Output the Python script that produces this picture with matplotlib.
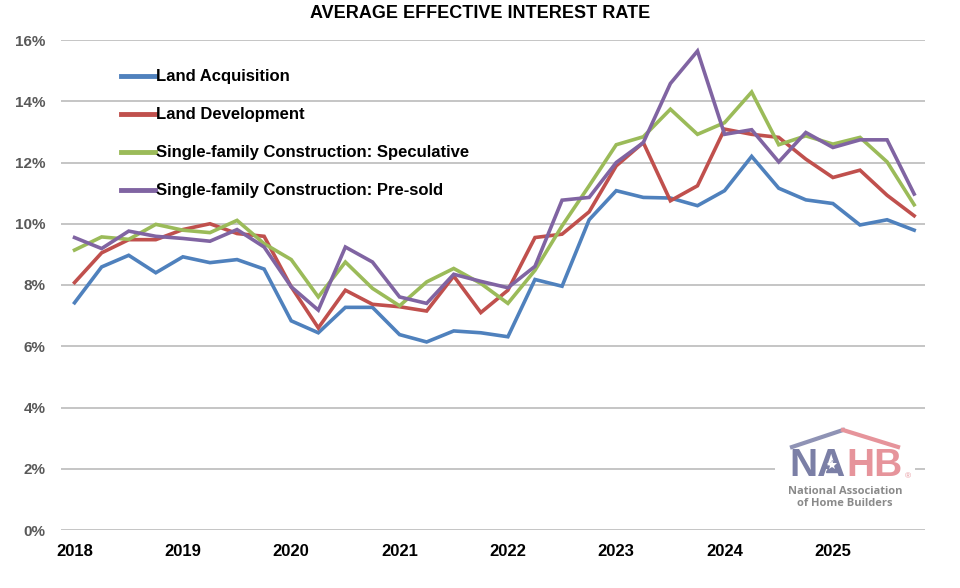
import matplotlib.pyplot as plt
from matplotlib.patches import Rectangle

plt.rcParams['font.family'] = ['Liberation Sans', 'DejaVu Sans']

# kwartaly od 2018 Q1 do 2025 Q4
years = ['2018', '2019', '2020', '2021', '2022', '2023', '2024', '2025']

land_acquisition = [7.42, 8.59, 8.97, 8.40, 8.92, 8.73, 8.83, 8.52,
                    6.83, 6.44, 7.27, 7.27, 6.38, 6.14, 6.50, 6.44,
                    6.31, 8.18, 7.96, 10.13, 11.08, 10.86, 10.84, 10.59,
                    11.08, 12.20, 11.16, 10.78, 10.66, 9.96, 10.13, 9.79]

land_development = [8.08, 9.05, 9.48, 9.48, 9.81, 10.00, 9.68, 9.59,
                    7.94, 6.60, 7.83, 7.37, 7.29, 7.15, 8.29, 7.10,
                    7.83, 9.55, 9.66, 10.39, 11.89, 12.65, 10.75, 11.24,
                    13.09, 12.92, 12.82, 12.11, 11.51, 11.75, 10.93, 10.26]

speculative = [9.14, 9.57, 9.49, 9.98, 9.79, 9.71, 10.11, 9.35,
               8.83, 7.61, 8.75, 7.89, 7.32, 8.10, 8.54, 8.05,
               7.40, 8.48, 9.93, 11.24, 12.58, 12.84, 13.74, 12.92,
               13.30, 14.30, 12.58, 12.87, 12.60, 12.82, 12.02, 10.62]

pre_sold = [9.55, 9.19, 9.76, 9.59, 9.52, 9.43, 9.81, 9.24,
            7.94, 7.18, 9.24, 8.75, 7.61, 7.40, 8.35, 8.12,
            7.91, 8.61, 10.77, 10.86, 12.00, 12.65, 14.58, 15.64,
            12.92, 13.07, 12.02, 12.98, 12.49, 12.74, 12.74, 10.97]

series = [
    ('Land Acquisition', land_acquisition, '#4F81BD'),
    ('Land Development', land_development, '#C0504D'),
    ('Single-family Construction: Speculative', speculative, '#9BBB59'),
    ('Single-family Construction: Pre-sold', pre_sold, '#8064A2'),
]

fig = plt.figure(figsize=(9.6, 5.88), dpi=100)
ax = fig.add_axes([61 / 960, 1 - 530 / 588, 864 / 960, 490 / 588])

x = list(range(len(land_acquisition)))
for nazwa, wartosci, kolor in series:
    ax.plot(x, wartosci, color=kolor, linewidth=2.6, label=nazwa, solid_joinstyle='miter')

ax.set_xlim(-0.5, 31.4)
ax.set_ylim(0, 16)
ax.set_yticks(range(0, 17, 2))
ax.set_yticklabels([f'{v}%' for v in range(0, 17, 2)])
ax.set_xticks([i * 4 for i in range(len(years))])
ax.set_xticklabels(years)
ax.grid(axis='y', color='#C0C0C0', linewidth=1.3)
ax.set_axisbelow(True)
for s in ax.spines.values():
    s.set_visible(False)
ax.tick_params(axis='both', length=0)
ax.tick_params(axis='y', pad=11, labelsize=11, labelcolor='#595959')
ax.tick_params(axis='x', pad=10, labelsize=12, labelcolor='black')
for t in ax.get_xticklabels() + ax.get_yticklabels():
    t.set_fontweight('bold')

fig.text(0.5, 1 - 13 / 588, 'AVERAGE EFFECTIVE INTEREST RATE', ha='center', va='center',
         fontsize=13, fontweight='bold')

leg = ax.legend(loc='upper left', bbox_to_anchor=(0.07, 0.94), frameon=False,
                handlelength=2.0, handletextpad=0.1, labelspacing=1.38,
                borderpad=0, borderaxespad=0, prop={'weight': 'bold', 'size': 12})
for line in leg.get_lines():
    line.set_linewidth(3.5)

# logo NAHB
fig.patches.append(Rectangle((775 / 960, 1 - 512 / 588), 140 / 960, 87 / 588,
                             transform=fig.transFigure, facecolor='white',
                             edgecolor='none', zorder=3))
blue_gray = '#7B7FA6'
pink = '#E6949B'
fig.add_artist(plt.Line2D([792 / 960, 843 / 960], [1 - 447 / 588, 1 - 430 / 588],
                          color='#8F93B5', linewidth=3, transform=fig.transFigure, zorder=4))
fig.add_artist(plt.Line2D([843 / 960, 898 / 960], [1 - 430 / 588, 1 - 447 / 588],
                          color=pink, linewidth=3, transform=fig.transFigure, zorder=4))
fig.text(846 / 960, 1 - 466 / 588, 'NA', ha='right', va='center', fontsize=28,
         fontweight='bold', color=blue_gray, zorder=5)
fig.text(846 / 960, 1 - 466 / 588, 'HB', ha='left', va='center', fontsize=28,
         fontweight='bold', color=pink, zorder=5)
fig.text(908 / 960, 1 - 477 / 588, '®', ha='center', va='center', fontsize=6,
         color=pink, zorder=5)
# wypelnienie srodka litery A i gwiazdka
fig.add_artist(plt.Line2D([832 / 960], [1 - 466 / 588], marker='^', color=blue_gray,
                          markersize=9, transform=fig.transFigure, zorder=6))
fig.add_artist(plt.Line2D([832 / 960], [1 - 465 / 588], marker='*', color='white',
                          markeredgewidth=0, markersize=8, transform=fig.transFigure, zorder=7))
fig.text(845 / 960, 1 - 492 / 588, 'National Association', ha='center', va='center',
         fontsize=8, fontweight='bold', color='#8A8A8A', family=['Open Sans', 'DejaVu Sans'],
         zorder=5)
fig.text(845 / 960, 1 - 504 / 588, 'of Home Builders', ha='center', va='center',
         fontsize=8, fontweight='bold', color='#8A8A8A', family=['Open Sans', 'DejaVu Sans'],
         zorder=5)

fig.savefig('out.png', dpi=100)
